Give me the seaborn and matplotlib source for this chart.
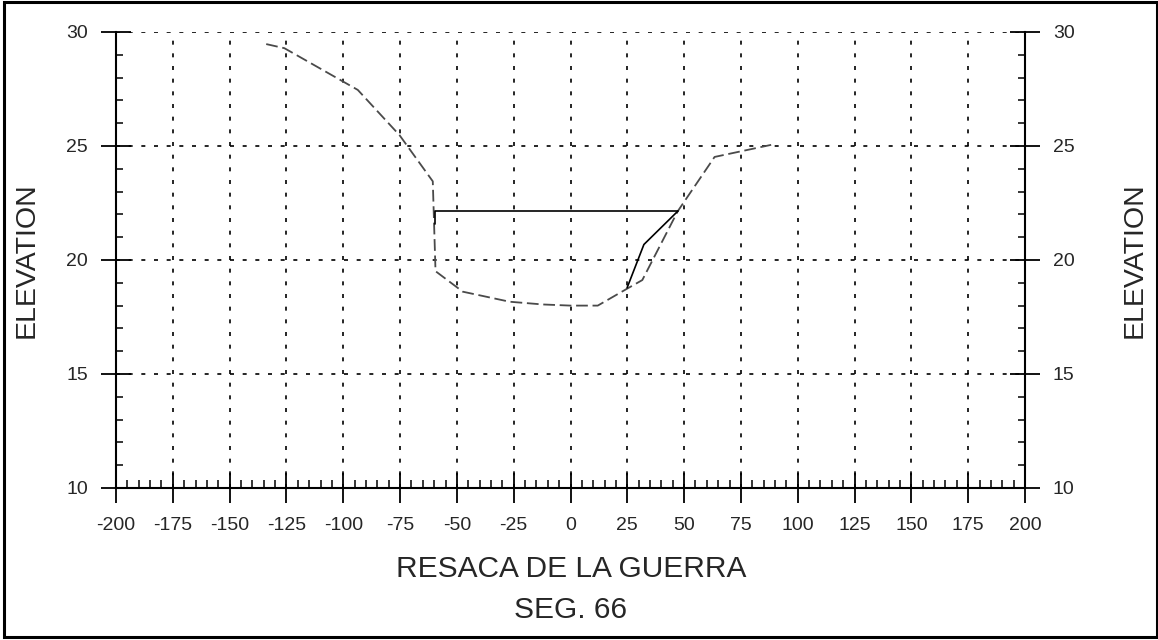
import numpy as np
import pandas as pd
import matplotlib
matplotlib.use("Agg")
import matplotlib.pyplot as plt
from matplotlib.patches import Rectangle
from matplotlib.ticker import MultipleLocator
import seaborn as sns

# ground profile (dashed)
ground_x = [-133.9, -125.9, -93.6, -75.2, -60.6, -59.4, -47.4, -26.8, -12.2, 0.0,
            12.0, 24.7, 31.6, 47.2, 63.4, 88.3]
ground_y = [29.47, 29.29, 27.46, 25.47, 23.45, 19.51, 18.61, 18.17, 18.05, 18.0,
            18.0, 18.73, 19.12, 22.14, 24.52, 25.05]

# water surface (solid)
water_x = [-59.8, -59.8, 47.2]
water_y = [21.6, 22.17, 22.17]

# proposed right bank (solid)
bank_x = [47.2, 32.3, 24.9]
bank_y = [22.14, 20.68, 18.78]

x_ticks = list(range(-200, 201, 25))
y_ticks = [10, 15, 20, 25, 30]

sns.set_style("ticks")
plt.rcParams["font.family"] = ["Liberation Sans", "DejaVu Sans"]
plt.rcParams["axes.unicode_minus"] = False

fig = plt.figure(figsize=(11.58, 6.4), dpi=100)
ax = fig.add_axes([116 / 1158, 1 - 488 / 640, 909 / 1158, 456 / 640])

ground = pd.DataFrame({"x": ground_x, "y": ground_y})
water = pd.DataFrame({"x": water_x, "y": water_y})
bank = pd.DataFrame({"x": bank_x, "y": bank_y})

sns.lineplot(data=ground, x="x", y="y", sort=False, estimator=None, ax=ax,
             color="#4a4a4a", lw=1.3, linestyle=(0, (6.5, 2.6)))
sns.lineplot(data=water, x="x", y="y", sort=False, estimator=None, ax=ax,
             color="black", lw=1.2)
sns.lineplot(data=bank, x="x", y="y", sort=False, estimator=None, ax=ax,
             color="black", lw=1.2)

ax.set_xlim(-200, 200)
ax.set_ylim(10, 30)
ax.set_xticks(x_ticks)
ax.set_yticks(y_ticks)
ax.xaxis.set_minor_locator(MultipleLocator(5))
ax.yaxis.set_minor_locator(MultipleLocator(1))

ax.grid(True, which="major", color="black", lw=1.2, linestyle=(0, (2.4, 5.2)))

for side in ["left", "right", "bottom"]:
    ax.spines[side].set_linewidth(1.5)
    ax.spines[side].set_color("black")
ax.spines["top"].set_visible(False)

ax.tick_params(axis="x", which="major", direction="inout", length=22, width=1.3,
               color="black", labelsize=14, pad=10)
ax.tick_params(axis="x", which="minor", direction="in", length=6, width=1.1, color="black")
ax.tick_params(axis="y", which="major", direction="inout", length=22, width=1.3,
               color="black", labelsize=14, pad=9, left=True, right=True,
               labelleft=True, labelright=True)
ax.tick_params(axis="y", which="minor", direction="in", length=5, width=1.1,
               color="black", left=True, right=True)
ax.set_xlabel("")
ax.set_ylabel("")

fig.text(27 / 1158, 1 - 260 / 640, "ELEVATION", rotation=90, ha="center", va="center",
         fontsize=20.5)
fig.text(1135 / 1158, 1 - 260 / 640, "ELEVATION", rotation=90, ha="center", va="center",
         fontsize=20.5)
fig.text(571 / 1158, 1 - 569 / 640, "RESACA DE LA GUERRA", ha="center", va="center",
         fontsize=21.5)
fig.text(571 / 1158, 1 - 610 / 640, "SEG. 66", ha="center", va="center", fontsize=21.5)

fig.add_artist(Rectangle((4 / 1158, 1 - 637 / 640), 1153 / 1158, 635 / 640,
                         transform=fig.transFigure, fill=False, ec="black", lw=2.2))

fig.savefig("out.png", dpi=100)
